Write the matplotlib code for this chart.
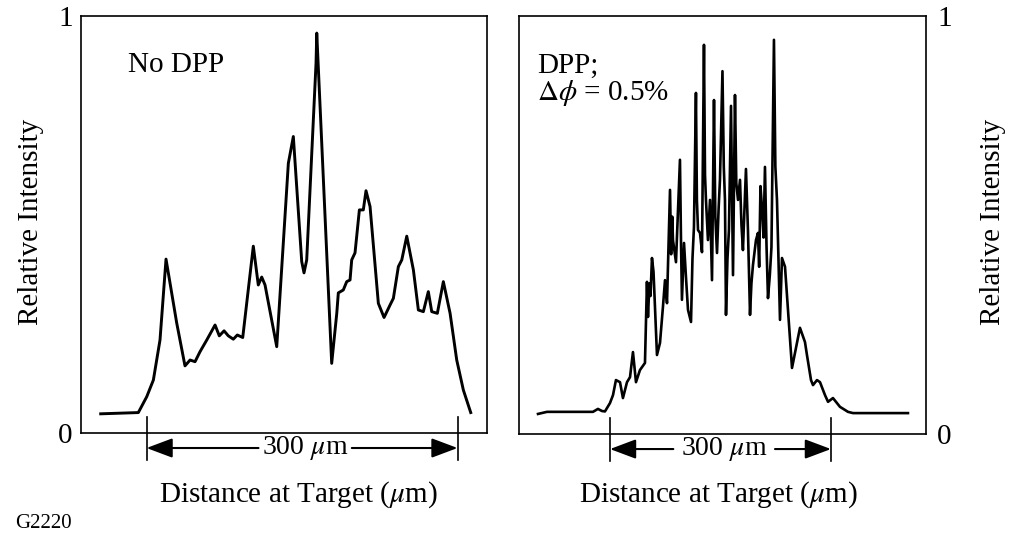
import matplotlib
matplotlib.use("Agg")
import matplotlib.pyplot as plt
import matplotlib.transforms as mtransforms

plt.rcParams['font.family'] = ['Liberation Serif', 'DejaVu Serif']
plt.rcParams['mathtext.fontset'] = 'stix'

# ---- data (distance in um from left end of 300 um marker, relative intensity) ----
nodpp_x = [-44.2, -7.9, 0.2, 6.6, 13.0, 18.8, 29.1, 37.1, 42.0, 46.8, 51.6, 58.1, 66.1,
           70.2, 74.8, 78.9, 83.7, 87.6, 92.8, 103.0, 107.8, 111.1, 114.3, 125.6, 136.8,
           141.6, 149.7, 151.9, 154.5, 163.5, 164.2, 178.6, 183.5, 185.0, 189.8, 193.1,
           196.3, 197.9, 201.1, 205.3, 209.1, 211.7, 215.6, 223.6, 229.1, 234.9, 238.1,
           242.9, 246.2, 251.0, 257.4, 262.2, 267.0, 271.8, 275.1, 280.5, 286.3, 292.8,
           299.2, 305.6, 312.7]
nodpp_y = [0.046, 0.049, 0.087, 0.127, 0.223, 0.417, 0.264, 0.161, 0.175, 0.171, 0.195,
           0.223, 0.259, 0.233, 0.245, 0.233, 0.225, 0.235, 0.229, 0.448, 0.355, 0.374,
           0.355, 0.207, 0.647, 0.711, 0.411, 0.384, 0.415, 0.887, 0.959, 0.167, 0.287,
           0.336, 0.343, 0.363, 0.367, 0.415, 0.432, 0.535, 0.535, 0.581, 0.543, 0.311,
           0.277, 0.307, 0.323, 0.399, 0.415, 0.472, 0.391, 0.295, 0.291, 0.339, 0.291,
           0.287, 0.363, 0.287, 0.175, 0.103, 0.049]

dpp_x = [-97.7, -85.5, -23.1, -16.3, -10.9, -6.8, 0.0, 4.1, 8.1, 13.6, 17.6, 23.1, 27.2,
         31.2, 35.3, 40.7, 47.5, 50.2, 51.6, 53.5, 55.0, 57.0, 59.1, 63.8, 67.9, 71.9,
         74.7, 77.4, 79.0, 81.5, 83.0, 84.5, 85.5, 89.6, 92.0, 95.0, 96.5, 97.7, 100.5,
         103.0, 105.9, 110.0, 112.0, 114.0, 116.7, 118.0, 119.5, 122.2, 124.9, 127.6,
         129.0, 130.3, 133.0, 135.8, 138.5, 141.2, 143.0, 145.3, 147.5, 149.3, 152.7,
         154.5, 156.1, 157.5, 159.5, 161.5, 164.3, 167.0, 169.7, 171.5, 173.8, 176.5,
         178.5, 180.5, 184.6, 187.3, 190.1, 192.0, 194.1, 198.2, 200.9, 202.5, 204.3,
         206.3, 208.5, 210.4, 212.5, 214.5, 217.0, 219.2, 222.6, 224.5, 226.7, 228.7,
         230.8, 233.5, 237.6, 247.1, 257.9, 264.7, 267.4, 272.9, 275.6, 281.0, 285.1,
         291.9, 296.0, 302.7, 312.2, 323.1, 329.9, 404.5]
dpp_y = [0.048, 0.053, 0.053, 0.060, 0.055, 0.054, 0.074, 0.093, 0.129, 0.124, 0.086,
         0.124, 0.136, 0.196, 0.124, 0.153, 0.170, 0.364, 0.280, 0.360, 0.330, 0.421,
         0.388, 0.189, 0.218, 0.304, 0.368, 0.313, 0.420, 0.584, 0.430, 0.520, 0.464,
         0.411, 0.520, 0.656, 0.450, 0.321, 0.457, 0.380, 0.297, 0.268, 0.420, 0.495,
         0.816, 0.560, 0.488, 0.481, 0.435, 0.931, 0.620, 0.560, 0.464, 0.560, 0.368,
         0.799, 0.520, 0.433, 0.540, 0.608, 0.868, 0.640, 0.560, 0.285, 0.420, 0.488,
         0.785, 0.380, 0.811, 0.600, 0.560, 0.608, 0.500, 0.440, 0.634, 0.488, 0.285,
         0.360, 0.404, 0.464, 0.481, 0.400, 0.593, 0.543, 0.470, 0.639, 0.450, 0.325,
         0.380, 0.447, 0.943, 0.640, 0.560, 0.421, 0.273, 0.421, 0.400, 0.158, 0.254,
         0.220, 0.189, 0.129, 0.117, 0.129, 0.124, 0.093, 0.077, 0.086, 0.065, 0.053,
         0.050, 0.050]

ytick_vals = [0, 1]
ytick_labels = ["0", "1"]
span_um = 300
xlabel = "Distance at Target ($\\mu$m)"
ylabel = "Relative Intensity"

W, H = 1010, 539
fig = plt.figure(figsize=(W / 100, H / 100), dpi=100)

def frac(l, t, r, b):
    return [l / W, 1 - b / H, (r - l) / W, (b - t) / H]

axL = fig.add_axes(frac(81, 16, 487, 433))
axR = fig.add_axes(frac(519, 16, 926, 434))

axL.plot(nodpp_x, nodpp_y, color='black', lw=2.1)
axR.plot(dpp_x, dpp_y, color='black', lw=1.9)

axL.set_xlim(-63.2, 328.4)
axR.set_xlim(-123.5, 429.0)

for ax in (axL, axR):
    ax.set_ylim(0, 1)
    ax.set_xticks([])
    ax.set_yticks(ytick_vals)
    ax.set_yticklabels(ytick_labels)
    for s in ax.spines.values():
        s.set_linewidth(1.2)
    ax.tick_params(axis='y', length=0, labelsize=21)

axL.tick_params(axis='y', pad=6)
axR.yaxis.tick_right()
axR.tick_params(axis='y', length=0, pad=8)

axL.text(0.115, 0.865, "No DPP", transform=axL.transAxes, fontsize=21,
         ha='left', va='baseline')
axR.text(0.045, 0.865, "DPP;", transform=axR.transAxes, fontsize=21,
         ha='left', va='baseline')
axR.text(0.045, 0.80, "$\\Delta\\phi$ = 0.5%", transform=axR.transAxes, fontsize=21,
         ha='left', va='baseline')

def span_marker(ax, gap_lo, gap_hi):
    tr = mtransforms.blended_transform_factory(ax.transData, ax.transAxes)
    y = -0.036
    for xv in (0, span_um):
        ax.plot([xv, xv], [0.038, -0.065], transform=tr, color='black', lw=1.2,
                clip_on=False)
    ap = dict(arrowstyle='-|>,head_length=0.8,head_width=0.3', lw=1.5, color='black',
              shrinkA=0, shrinkB=0, mutation_scale=20)
    ax.annotate('', xy=(0, y), xytext=(gap_lo, y), xycoords=tr, textcoords=tr,
                arrowprops=ap, annotation_clip=False)
    ax.annotate('', xy=(span_um, y), xytext=(gap_hi, y), xycoords=tr, textcoords=tr,
                arrowprops=ap, annotation_clip=False)
    ax.text((gap_lo + gap_hi) / 2, y, "300 $\\mu$m", transform=tr, fontsize=20,
            ha='center', va='center')

span_marker(axL, 108, 198)
span_marker(axR, 86, 224)

fig.text(298 / W, 1 - 495 / H, xlabel, fontsize=21, ha='center', va='center')
fig.text(718 / W, 1 - 495 / H, xlabel, fontsize=21, ha='center', va='center')
fig.text(31 / W, 1 - 222 / H, ylabel, fontsize=21, rotation=90, ha='center', va='center')
fig.text(993 / W, 1 - 222 / H, ylabel, fontsize=21, rotation=90, ha='center', va='center')
fig.text(15 / W, 1 - 524 / H, "G2220", fontsize=15, ha='left', va='center')

fig.savefig("out.png", dpi=100)
